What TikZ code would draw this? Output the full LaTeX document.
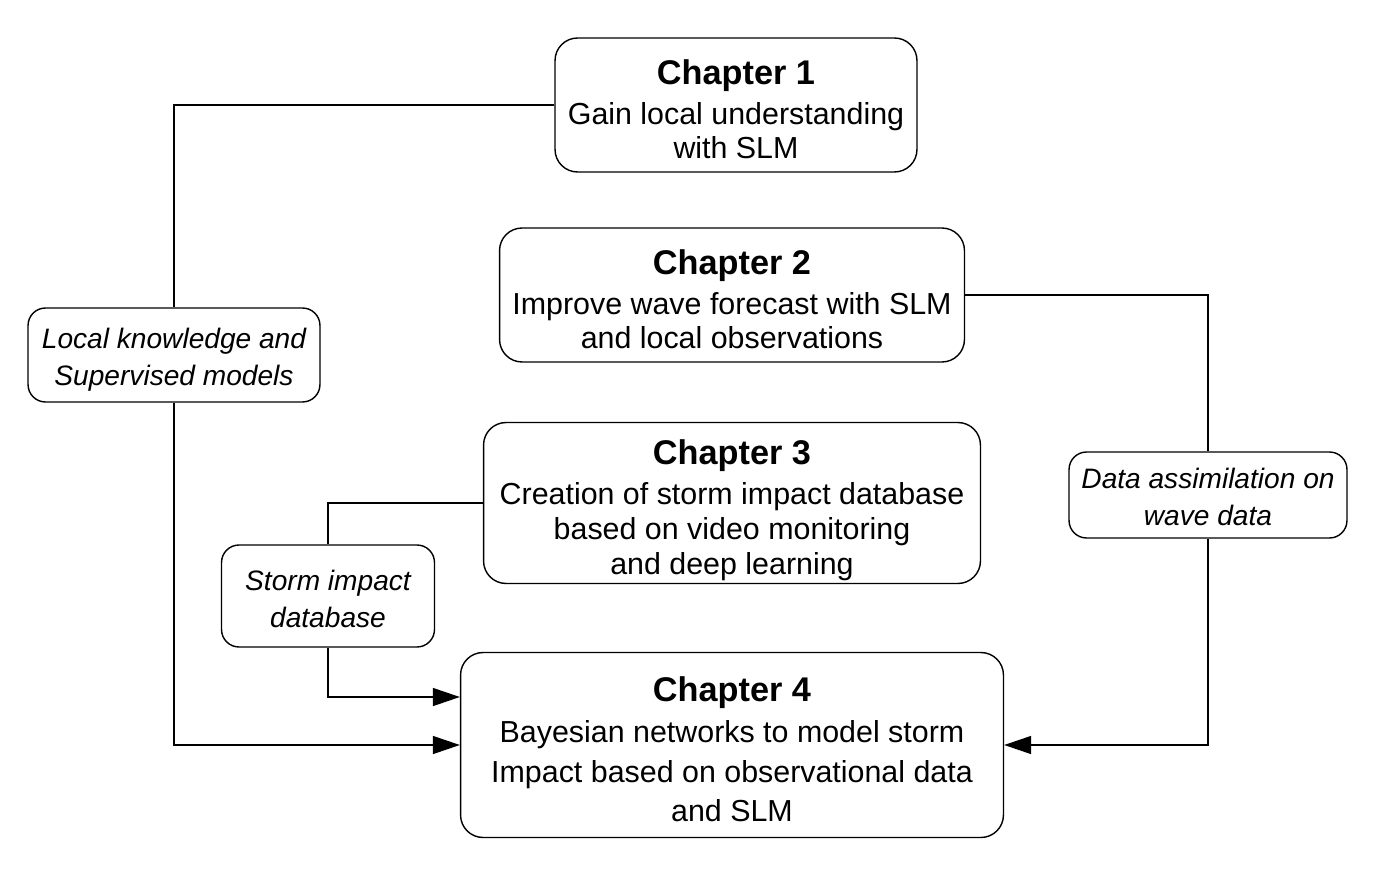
\documentclass[tikz,border=0pt]{standalone}
\usepackage{fontspec}
\setmainfont{Liberation Sans}
\usetikzlibrary{arrows.meta}

\begin{document}
\begin{tikzpicture}[x=0.02cm, y=-0.02cm, line width=0.8pt,
	every node/.style={font=\fontsize{17.3}{19.8}\selectfont, align=center, inner sep=0pt},
	chap/.style={draw, rounded corners=0.45cm},
	link/.style={draw, rounded corners=0.35cm, font=\fontsize{16}{21}\selectfont\itshape},
	tip/.style={-{Triangle[length=0.54cm, width=0.36cm]}}]
	\useasboundingbox (0,0) rectangle (1375,881);
	\node[chap, minimum width=7.24cm, minimum height=2.68cm] (ch1) at (736,105) {\rule{0pt}{19pt}{\fontsize{19.5}{22}\selectfont\bfseries Chapter 1}\\[3pt] Gain local understanding\\ with SLM};
	\node[chap, minimum width=9.3cm, minimum height=2.68cm] (ch2) at (732,295) {\rule{0pt}{19pt}{\fontsize{19.5}{22}\selectfont\bfseries Chapter 2}\\[3pt] Improve wave forecast with SLM\\ and local observations};
	\node[chap, minimum width=9.94cm, minimum height=3.22cm] (ch3) at (732,503) {\rule{0pt}{22.3pt}{\fontsize{19.5}{22}\selectfont\bfseries Chapter 3}\\[3pt] Creation of storm impact database\\ based on video monitoring\\ and deep learning};
	\node[chap, minimum width=10.86cm, minimum height=3.7cm, font=\fontsize{17.3}{22.4}\selectfont] (ch4) at (732,745) {\rule{0pt}{19pt}{\fontsize{19.5}{22}\selectfont\bfseries Chapter 4}\\[1pt] Bayesian networks to model storm\\ Impact based on observational data\\ and SLM};
	\node[link, minimum width=5.84cm, minimum height=1.88cm] (local) at (174,355) {\rule{0pt}{17pt}Local knowledge and\\ Supervised models};
	\node[link, minimum width=4.26cm, minimum height=2.04cm] (storm) at (328,596) {\rule{0pt}{14.7pt}Storm impact\\ database};
	\node[link, minimum width=5.56cm, minimum height=1.72cm] (assim) at (1208,495) {\rule{0pt}{13.6pt}Data assimilation on\\ wave data};
	\draw (ch1.west) -| (local.north);
	\draw[tip] (local.south) |- (ch4.west);
	\draw (ch2.east) -| (assim.north);
	\draw[tip] (assim.south) |- (ch4.east);
	\draw (ch3.west) -| (storm.north);
	\draw[tip] (storm.south) |- ([yshift=0.96cm]ch4.west);
\end{tikzpicture}
\end{document}
